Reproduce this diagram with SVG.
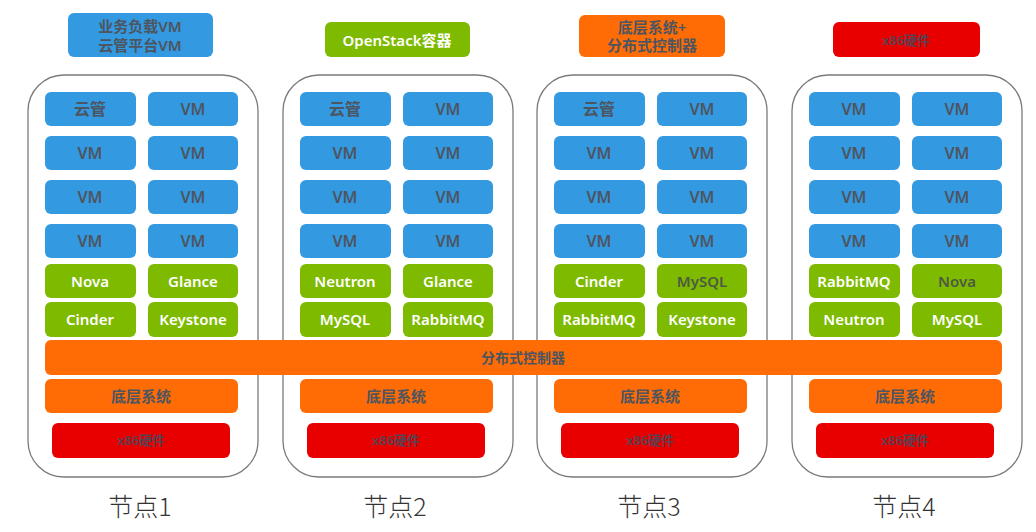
<svg xmlns="http://www.w3.org/2000/svg" width="1036" height="532" viewBox="0 0 1036 532">
<style>
text{font-family:"Noto Sans","Noto Sans CJK SC",sans-serif;text-anchor:middle;dominant-baseline:central}
.blue{fill:#3399e0}
.green{fill:#7dba00}
.orange{fill:#ff6c05}
.red{fill:#e80000}
.cont{fill:#fff;stroke:#7a7a7a;stroke-width:1.3}
.dk{fill:#4d5560;font-size:16px;font-weight:600}
.wt{fill:#fff;font-size:15px;font-weight:600}
.dg{fill:#4d5a40;font-size:15px;font-weight:600}
.hw{fill:#5a4050;font-size:13px;font-weight:600}
.lbl{fill:#333;font-size:25px;font-family:"Noto Sans CJK SC","Noto Sans",sans-serif;font-weight:300}
</style>
<rect width="1036" height="532" fill="#fff"/>
<g id="legend">
<g id="legend-vm"><rect class="blue" x="68" y="13" width="145" height="44" rx="6"/><text class="dk" x="140" y="26" style="font-size:15px">业务负载VM</text><text class="dk" x="140" y="45" style="font-size:15px">云管平台VM</text></g>
<g id="legend-openstack"><rect class="green" x="325" y="22" width="145" height="35" rx="6"/><text class="wt" x="397" y="40">OpenStack容器</text></g>
<g id="legend-system"><rect class="orange" x="579" y="15" width="146" height="42" rx="6"/><text class="dk" x="652" y="27" style="font-size:15px">底层系统+</text><text class="dk" x="652" y="45" style="font-size:15px">分布式控制器</text></g>
<g id="legend-hw"><rect class="red" x="833" y="22" width="147" height="35" rx="6"/><text class="hw" x="906" y="40">x86硬件</text></g>
</g>
<g id="node1">
<rect class="cont" x="28" y="75" width="230" height="402" rx="36"/>
<rect class="blue" x="45" y="92" width="91" height="34" rx="6"/><text class="dk" x="90" y="109">云管</text>
<rect class="blue" x="148" y="92" width="90" height="34" rx="6"/><text class="dk" x="193" y="109">VM</text>
<rect class="blue" x="45" y="136" width="91" height="34" rx="6"/><text class="dk" x="90" y="153">VM</text>
<rect class="blue" x="148" y="136" width="90" height="34" rx="6"/><text class="dk" x="193" y="153">VM</text>
<rect class="blue" x="45" y="180" width="91" height="34" rx="6"/><text class="dk" x="90" y="197">VM</text>
<rect class="blue" x="148" y="180" width="90" height="34" rx="6"/><text class="dk" x="193" y="197">VM</text>
<rect class="blue" x="45" y="224" width="91" height="34" rx="6"/><text class="dk" x="90" y="241">VM</text>
<rect class="blue" x="148" y="224" width="90" height="34" rx="6"/><text class="dk" x="193" y="241">VM</text>
<rect class="green" x="45" y="264" width="91" height="34" rx="6"/><text class="wt" x="90" y="281">Nova</text>
<rect class="green" x="148" y="264" width="90" height="34" rx="6"/><text class="wt" x="193" y="281">Glance</text>
<rect class="green" x="45" y="302" width="91" height="35" rx="6"/><text class="wt" x="90" y="319">Cinder</text>
<rect class="green" x="148" y="302" width="90" height="35" rx="6"/><text class="wt" x="193" y="319">Keystone</text>
<rect class="orange" x="45" y="379" width="193" height="34" rx="6"/><text class="dk" x="141" y="396" style="font-size:15px">底层系统</text>
<rect class="red" x="52" y="423" width="178" height="35" rx="6"/><text class="hw" x="141" y="440">x86硬件</text>
<text class="lbl" x="140" y="505">节点1</text>
</g>
<g id="node2" transform="translate(255,0)">
<rect class="cont" x="28" y="75" width="230" height="402" rx="36"/>
<rect class="blue" x="45" y="92" width="91" height="34" rx="6"/><text class="dk" x="90" y="109">云管</text>
<rect class="blue" x="148" y="92" width="90" height="34" rx="6"/><text class="dk" x="193" y="109">VM</text>
<rect class="blue" x="45" y="136" width="91" height="34" rx="6"/><text class="dk" x="90" y="153">VM</text>
<rect class="blue" x="148" y="136" width="90" height="34" rx="6"/><text class="dk" x="193" y="153">VM</text>
<rect class="blue" x="45" y="180" width="91" height="34" rx="6"/><text class="dk" x="90" y="197">VM</text>
<rect class="blue" x="148" y="180" width="90" height="34" rx="6"/><text class="dk" x="193" y="197">VM</text>
<rect class="blue" x="45" y="224" width="91" height="34" rx="6"/><text class="dk" x="90" y="241">VM</text>
<rect class="blue" x="148" y="224" width="90" height="34" rx="6"/><text class="dk" x="193" y="241">VM</text>
<rect class="green" x="45" y="264" width="91" height="34" rx="6"/><text class="wt" x="90" y="281">Neutron</text>
<rect class="green" x="148" y="264" width="90" height="34" rx="6"/><text class="wt" x="193" y="281">Glance</text>
<rect class="green" x="45" y="302" width="91" height="35" rx="6"/><text class="wt" x="90" y="319">MySQL</text>
<rect class="green" x="148" y="302" width="90" height="35" rx="6"/><text class="wt" x="193" y="319">RabbitMQ</text>
<rect class="orange" x="45" y="379" width="193" height="34" rx="6"/><text class="dk" x="141" y="396" style="font-size:15px">底层系统</text>
<rect class="red" x="52" y="423" width="178" height="35" rx="6"/><text class="hw" x="141" y="440">x86硬件</text>
<text class="lbl" x="140" y="505">节点2</text>
</g>
<g id="node3" transform="translate(509,0)">
<rect class="cont" x="28" y="75" width="230" height="402" rx="36"/>
<rect class="blue" x="45" y="92" width="91" height="34" rx="6"/><text class="dk" x="90" y="109">云管</text>
<rect class="blue" x="148" y="92" width="90" height="34" rx="6"/><text class="dk" x="193" y="109">VM</text>
<rect class="blue" x="45" y="136" width="91" height="34" rx="6"/><text class="dk" x="90" y="153">VM</text>
<rect class="blue" x="148" y="136" width="90" height="34" rx="6"/><text class="dk" x="193" y="153">VM</text>
<rect class="blue" x="45" y="180" width="91" height="34" rx="6"/><text class="dk" x="90" y="197">VM</text>
<rect class="blue" x="148" y="180" width="90" height="34" rx="6"/><text class="dk" x="193" y="197">VM</text>
<rect class="blue" x="45" y="224" width="91" height="34" rx="6"/><text class="dk" x="90" y="241">VM</text>
<rect class="blue" x="148" y="224" width="90" height="34" rx="6"/><text class="dk" x="193" y="241">VM</text>
<rect class="green" x="45" y="264" width="91" height="34" rx="6"/><text class="wt" x="90" y="281">Cinder</text>
<rect class="green" x="148" y="264" width="90" height="34" rx="6"/><text class="dg" x="193" y="281">MySQL</text>
<rect class="green" x="45" y="302" width="91" height="35" rx="6"/><text class="wt" x="90" y="319">RabbitMQ</text>
<rect class="green" x="148" y="302" width="90" height="35" rx="6"/><text class="wt" x="193" y="319">Keystone</text>
<rect class="orange" x="45" y="379" width="193" height="34" rx="6"/><text class="dk" x="141" y="396" style="font-size:15px">底层系统</text>
<rect class="red" x="52" y="423" width="178" height="35" rx="6"/><text class="hw" x="141" y="440">x86硬件</text>
<text class="lbl" x="140" y="505">节点3</text>
</g>
<g id="node4" transform="translate(764,0)">
<rect class="cont" x="28" y="75" width="230" height="402" rx="36"/>
<rect class="blue" x="45" y="92" width="91" height="34" rx="6"/><text class="dk" x="90" y="109">VM</text>
<rect class="blue" x="148" y="92" width="90" height="34" rx="6"/><text class="dk" x="193" y="109">VM</text>
<rect class="blue" x="45" y="136" width="91" height="34" rx="6"/><text class="dk" x="90" y="153">VM</text>
<rect class="blue" x="148" y="136" width="90" height="34" rx="6"/><text class="dk" x="193" y="153">VM</text>
<rect class="blue" x="45" y="180" width="91" height="34" rx="6"/><text class="dk" x="90" y="197">VM</text>
<rect class="blue" x="148" y="180" width="90" height="34" rx="6"/><text class="dk" x="193" y="197">VM</text>
<rect class="blue" x="45" y="224" width="91" height="34" rx="6"/><text class="dk" x="90" y="241">VM</text>
<rect class="blue" x="148" y="224" width="90" height="34" rx="6"/><text class="dk" x="193" y="241">VM</text>
<rect class="green" x="45" y="264" width="91" height="34" rx="6"/><text class="wt" x="90" y="281">RabbitMQ</text>
<rect class="green" x="148" y="264" width="90" height="34" rx="6"/><text class="dg" x="193" y="281">Nova</text>
<rect class="green" x="45" y="302" width="91" height="35" rx="6"/><text class="wt" x="90" y="319">Neutron</text>
<rect class="green" x="148" y="302" width="90" height="35" rx="6"/><text class="wt" x="193" y="319">MySQL</text>
<rect class="orange" x="45" y="379" width="193" height="34" rx="6"/><text class="dk" x="141" y="396" style="font-size:15px">底层系统</text>
<rect class="red" x="52" y="423" width="178" height="35" rx="6"/><text class="hw" x="141" y="440">x86硬件</text>
<text class="lbl" x="140" y="505">节点4</text>
</g>
<g id="controller">
<rect class="orange" x="45" y="340" width="957" height="35" rx="6"/>
<text class="dk" x="523" y="357" style="font-size:14px">分布式控制器</text>
</g>
<g id="connectors"/>
</svg>
